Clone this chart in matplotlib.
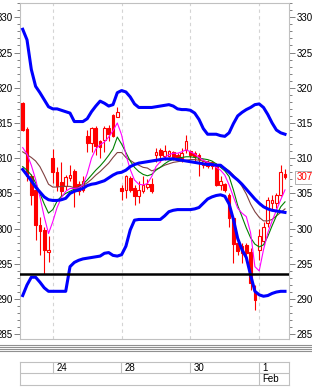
import numpy as np
import matplotlib
matplotlib.use('Agg')
import matplotlib.pyplot as plt
from matplotlib.patches import Rectangle
from matplotlib.lines import Line2D

# candle data, one value per bar
opens = [317.8, 314.1, 307.4, 305.5, 300.5, 299.8, 296.7, 310.0, 308.0, 306.6,
         306.0, 307.2, 308.2, 306.4, 305.5, 313.1, 312.1, 314.3, 312.4, 312.6,
         314.3, 316.1, 315.8, 305.8, 305.5, 307.2, 305.7, 304.6, 305.3, 305.9,
         306.4, 310.5, 311.2, 310.3, 310.3, 310.9, 310.5, 310.0, 311.2, 311.0,
         310.8, 310.5, 309.1, 309.5, 309.4, 309.1, 306.2, 306.3, 304.8, 301.5,
         297.9, 297.5, 297.7, 296.7, 291.1, 297.0, 298.2, 300.8, 303.6, 303.6,
         304.8, 307.8]
highs = [318.0, 314.4, 307.8, 306.0, 301.7, 300.2, 298.9, 311.3, 308.8, 309.5,
         307.6, 309.0, 308.4, 306.8, 307.4, 314.0, 314.4, 314.6, 312.6, 314.6,
         314.7, 316.3, 317.2, 306.2, 307.6, 307.4, 306.2, 306.7, 307.4, 307.0,
         307.2, 311.4, 311.4, 311.9, 311.2, 311.0, 310.8, 311.4, 313.3, 311.2,
         311.0, 310.8, 309.9, 309.8, 309.6, 309.3, 307.5, 306.5, 305.0, 301.8,
         298.4, 297.9, 297.9, 297.3, 292.0, 299.9, 301.0, 304.5, 304.8, 305.0,
         309.0, 308.5]
lows = [313.8, 306.7, 303.4, 298.4, 296.3, 293.6, 295.2, 306.5, 305.3, 304.6,
        305.5, 306.8, 303.1, 304.8, 305.2, 310.9, 310.9, 310.5, 310.0, 310.9,
        312.4, 313.0, 315.8, 304.1, 304.3, 305.2, 303.4, 303.6, 305.0, 305.6,
        305.0, 309.5, 309.5, 309.8, 310.2, 309.8, 309.7, 309.5, 310.7, 310.0,
        309.5, 307.4, 308.6, 308.6, 308.5, 306.0, 305.5, 305.2, 300.3, 295.1,
        296.2, 295.1, 295.6, 291.3, 288.5, 295.6, 297.7, 300.3, 302.8, 302.9,
        304.6, 307.0]
closes = [314.0, 307.4, 304.8, 300.5, 299.7, 297.0, 296.9, 308.0, 306.1, 305.3,
          307.3, 307.6, 305.4, 305.4, 306.7, 312.1, 314.3, 311.8, 311.6, 314.3,
          313.5, 313.1, 316.6, 305.4, 307.4, 305.5, 304.6, 305.5, 306.2, 306.4,
          305.3, 310.9, 310.5, 311.0, 311.0, 310.2, 310.0, 310.8, 312.4, 310.5,
          310.3, 309.9, 309.6, 308.9, 308.9, 306.2, 306.7, 305.5, 301.5, 297.8,
          296.8, 296.5, 296.6, 292.3, 289.9, 298.9, 300.3, 304.1, 304.1, 304.8,
          308.1, 307.3]

# indicator lines
upper_band = [328.3, 326.8, 322.6, 320.2, 319.3, 318.3, 317.3, 317.0, 317.0, 316.8,
              316.6, 316.4, 315.2, 315.2, 315.2, 315.6, 316.6, 317.4, 318.1, 317.8,
              317.4, 317.6, 319.3, 319.6, 319.4, 318.7, 317.7, 317.2, 317.2, 317.2,
              317.2, 317.3, 317.4, 317.5, 317.6, 317.4, 317.0, 316.9, 316.9, 316.8,
              316.4, 315.5, 314.2, 313.4, 313.4, 313.4, 313.2, 313.1, 313.6, 314.9,
              316.0, 316.5, 316.9, 317.2, 317.6, 317.7, 317.2, 316.2, 315.0, 314.0,
              313.6, 313.4]
middle_band = [308.4, 307.6, 306.8, 305.9, 305.2, 304.5, 304.1, 304.0, 304.0, 304.1,
               304.3, 305.0, 305.3, 305.5, 305.7, 306.1, 306.3, 306.4, 306.6, 306.8,
               307.2, 307.6, 307.9, 308.0, 308.3, 308.8, 309.1, 309.3, 309.4, 309.5,
               309.6, 309.7, 309.8, 309.9, 309.9, 309.9, 309.8, 309.7, 309.6, 309.5,
               309.4, 309.3, 309.2, 309.1, 309.1, 309.0, 309.0, 308.5, 308.0, 307.4,
               306.9, 306.3, 305.6, 304.9, 304.2, 303.6, 303.1, 302.8, 302.6, 302.5,
               302.4, 302.3]
lower_band = [290.5, 292.0, 293.1, 293.1, 292.4, 291.6, 291.1, 291.1, 291.1, 291.1,
              291.1, 294.6, 295.2, 295.5, 295.7, 295.8, 295.9, 296.0, 296.1, 296.5,
              296.6, 296.2, 296.1, 296.3, 297.5, 299.8, 301.2, 301.3, 301.3, 301.3,
              301.3, 301.3, 301.3, 301.8, 302.4, 302.6, 302.7, 302.7, 302.7, 302.7,
              302.8, 303.0, 303.6, 304.2, 304.5, 304.7, 304.8, 304.6, 303.5, 301.3,
              298.6, 297.0, 295.9, 293.4, 291.1, 290.6, 290.4, 290.5, 290.8, 291.0,
              291.1, 291.1]
ma_fast = [311.5, 310.6, 309.0, 307.0, 304.5, 301.7, 299.3, 301.0, 303.0, 304.4,
           305.3, 305.7, 305.7, 305.8, 306.2, 307.8, 310.0, 311.3, 311.9, 312.3,
           313.0, 313.9, 315.0, 313.3, 310.5, 308.4, 306.9, 306.3, 306.2, 306.4,
           307.4, 308.8, 309.5, 310.1, 310.5, 310.7, 310.7, 310.9, 311.2, 310.9,
           310.6, 310.1, 309.7, 309.4, 309.2, 308.7, 308.3, 307.6, 306.2, 304.5,
           302.9, 302.2, 301.7, 299.4, 294.6, 294.0, 297.0, 299.4, 301.1, 302.6,
           304.1, 305.5]
ma_mid = [308.8, 308.3, 307.6, 306.5, 305.0, 303.5, 302.2, 302.7, 303.9, 304.6,
          305.0, 305.3, 305.6, 305.9, 306.3, 306.9, 307.6, 308.3, 308.9, 309.6,
          310.4, 311.3, 313.0, 312.0, 310.8, 309.6, 308.7, 308.1, 307.7, 307.5,
          307.7, 308.3, 308.7, 309.2, 309.6, 309.8, 310.0, 310.1, 310.2, 310.2,
          310.1, 310.0, 309.9, 309.8, 309.6, 309.2, 308.7, 308.2, 307.4, 305.5,
          303.3, 301.7, 300.1, 298.7, 297.8, 297.4, 297.7, 298.9, 300.4, 301.8,
          303.1, 303.8]
ma_slow = [310.9, 310.5, 310.1, 309.6, 308.8, 307.6, 306.3, 305.9, 305.9, 306.0,
           306.0, 306.0, 305.8, 305.7, 306.1, 306.5, 307.0, 307.6, 308.1, 308.7,
           309.3, 310.1, 310.8, 310.8, 310.1, 309.7, 309.3, 309.0, 308.7, 308.6,
           308.2, 308.4, 308.7, 309.0, 309.2, 309.4, 309.5, 309.6, 309.7, 309.8,
           309.8, 309.7, 309.6, 309.5, 309.3, 309.1, 308.8, 308.6, 308.2, 307.6,
           306.9, 306.0, 304.9, 303.5, 302.4, 301.6, 301.1, 301.1, 301.3, 301.8,
           302.3, 302.8]
support = 293.6
last_price = 307.3

day_idx = [7, 23, 39, 55]
day_labels = ['24', '28', '30', '1']
month_idx = 55
month_label = 'Feb'

W, H = 312, 389
plt.rcParams['font.family'] = ['Liberation Sans', 'DejaVu Sans']
fig = plt.figure(figsize=(W / 100, H / 100), dpi=100)


def fx(px):
    return px / W


def fy(py):
    return 1 - py / H


ax = fig.add_axes([fx(20), fy(339), fx(289) - fx(20), fy(3) - fy(339)])
n = len(closes)
x = np.arange(n)
red = '#ff0000'

for d in day_idx:
    ax.axvline(d, color='#d4d4d4', lw=0.8, ls=(0, (3, 3)), zorder=1)

ax.vlines(x, lows, highs, color=red, lw=0.8, zorder=2)
bw = 0.62
for i in range(n):
    o, c = opens[i], closes[i]
    lo, hi = min(o, c), max(o, c)
    if hi - lo < 0.12:
        hi = lo + 0.12
    if c > o:
        r = Rectangle((i - bw / 2, lo), bw, hi - lo, fc='white', ec=red, lw=0.8, zorder=3)
    else:
        r = Rectangle((i - bw / 2, lo), bw, hi - lo, fc=red, ec=red, lw=0.8, zorder=3)
    ax.add_patch(r)

ax.plot(x, ma_slow, color='#804040', lw=0.8, zorder=4)
ax.plot(x, ma_mid, color='#008000', lw=0.8, zorder=4)
ax.plot(x, ma_fast, color='#ff00ff', lw=0.8, zorder=4)
for band in (upper_band, middle_band, lower_band):
    ax.plot(x, band, color='#0000ff', lw=2.2, zorder=5)
ax.axhline(support, color='black', lw=1.8, zorder=6)

ax.set_xlim(-0.63, 61.93)
ax.set_ylim(284.33, 332.03)
ax.set_xticks([])
ax.set_yticks(np.arange(285, 331, 5))
ax.set_yticks(np.arange(285, 333, 1), minor=True)
ax.tick_params(axis='y', which='major', length=4.3, width=0.7, color='#808080',
               labelsize=7, pad=1.2, left=True, right=True, labelleft=True, labelright=True)
ax.tick_params(axis='y', which='minor', length=2.2, width=0.7, color='#808080',
               left=True, right=True)
for s in ax.spines.values():
    s.set_color('#c0c0c0')
    s.set_linewidth(0.8)

ax.annotate('%d' % round(last_price), xy=(1, last_price), xycoords=('axes fraction', 'data'),
            xytext=(5.2, 0), textcoords='offset points', va='center', ha='left',
            color=red, fontsize=7,
            bbox=dict(boxstyle='square,pad=0.15', fc='white', ec='#b0b0b0', lw=0.7))

# separator stripes
for yy in [344.5, 346.5, 348.5, 350.5]:
    fig.add_artist(Line2D([0, 1], [fy(yy), fy(yy)], color='#909090', lw=0.8,
                          transform=fig.transFigure))

# date panel
ax2 = fig.add_axes([fx(20), fy(385), fx(288.5) - fx(20), fy(361.7) - fy(385)])
ax2.set_xlim(ax.get_xlim())
ax2.set_ylim(0, 2)
ax2.set_xticks([])
ax2.set_yticks([])
for s in ax2.spines.values():
    s.set_color('#c0c0c0')
    s.set_linewidth(0.8)
ax2.axhline(1, color='#c0c0c0', lw=0.8)
for d, lbl in zip(day_idx, day_labels):
    top = 0 if d == month_idx else 1
    ax2.plot([d, d], [top, 2], color='#c0c0c0', lw=0.8)
    ax2.annotate(lbl, xy=(d, 1.5), xytext=(2.5, 0), textcoords='offset points',
                 va='center', ha='left', fontsize=7)
ax2.annotate(month_label, xy=(month_idx, 0.5), xytext=(2.5, 0), textcoords='offset points',
             va='center', ha='left', fontsize=7)

fig.savefig('out.png', dpi=100)
